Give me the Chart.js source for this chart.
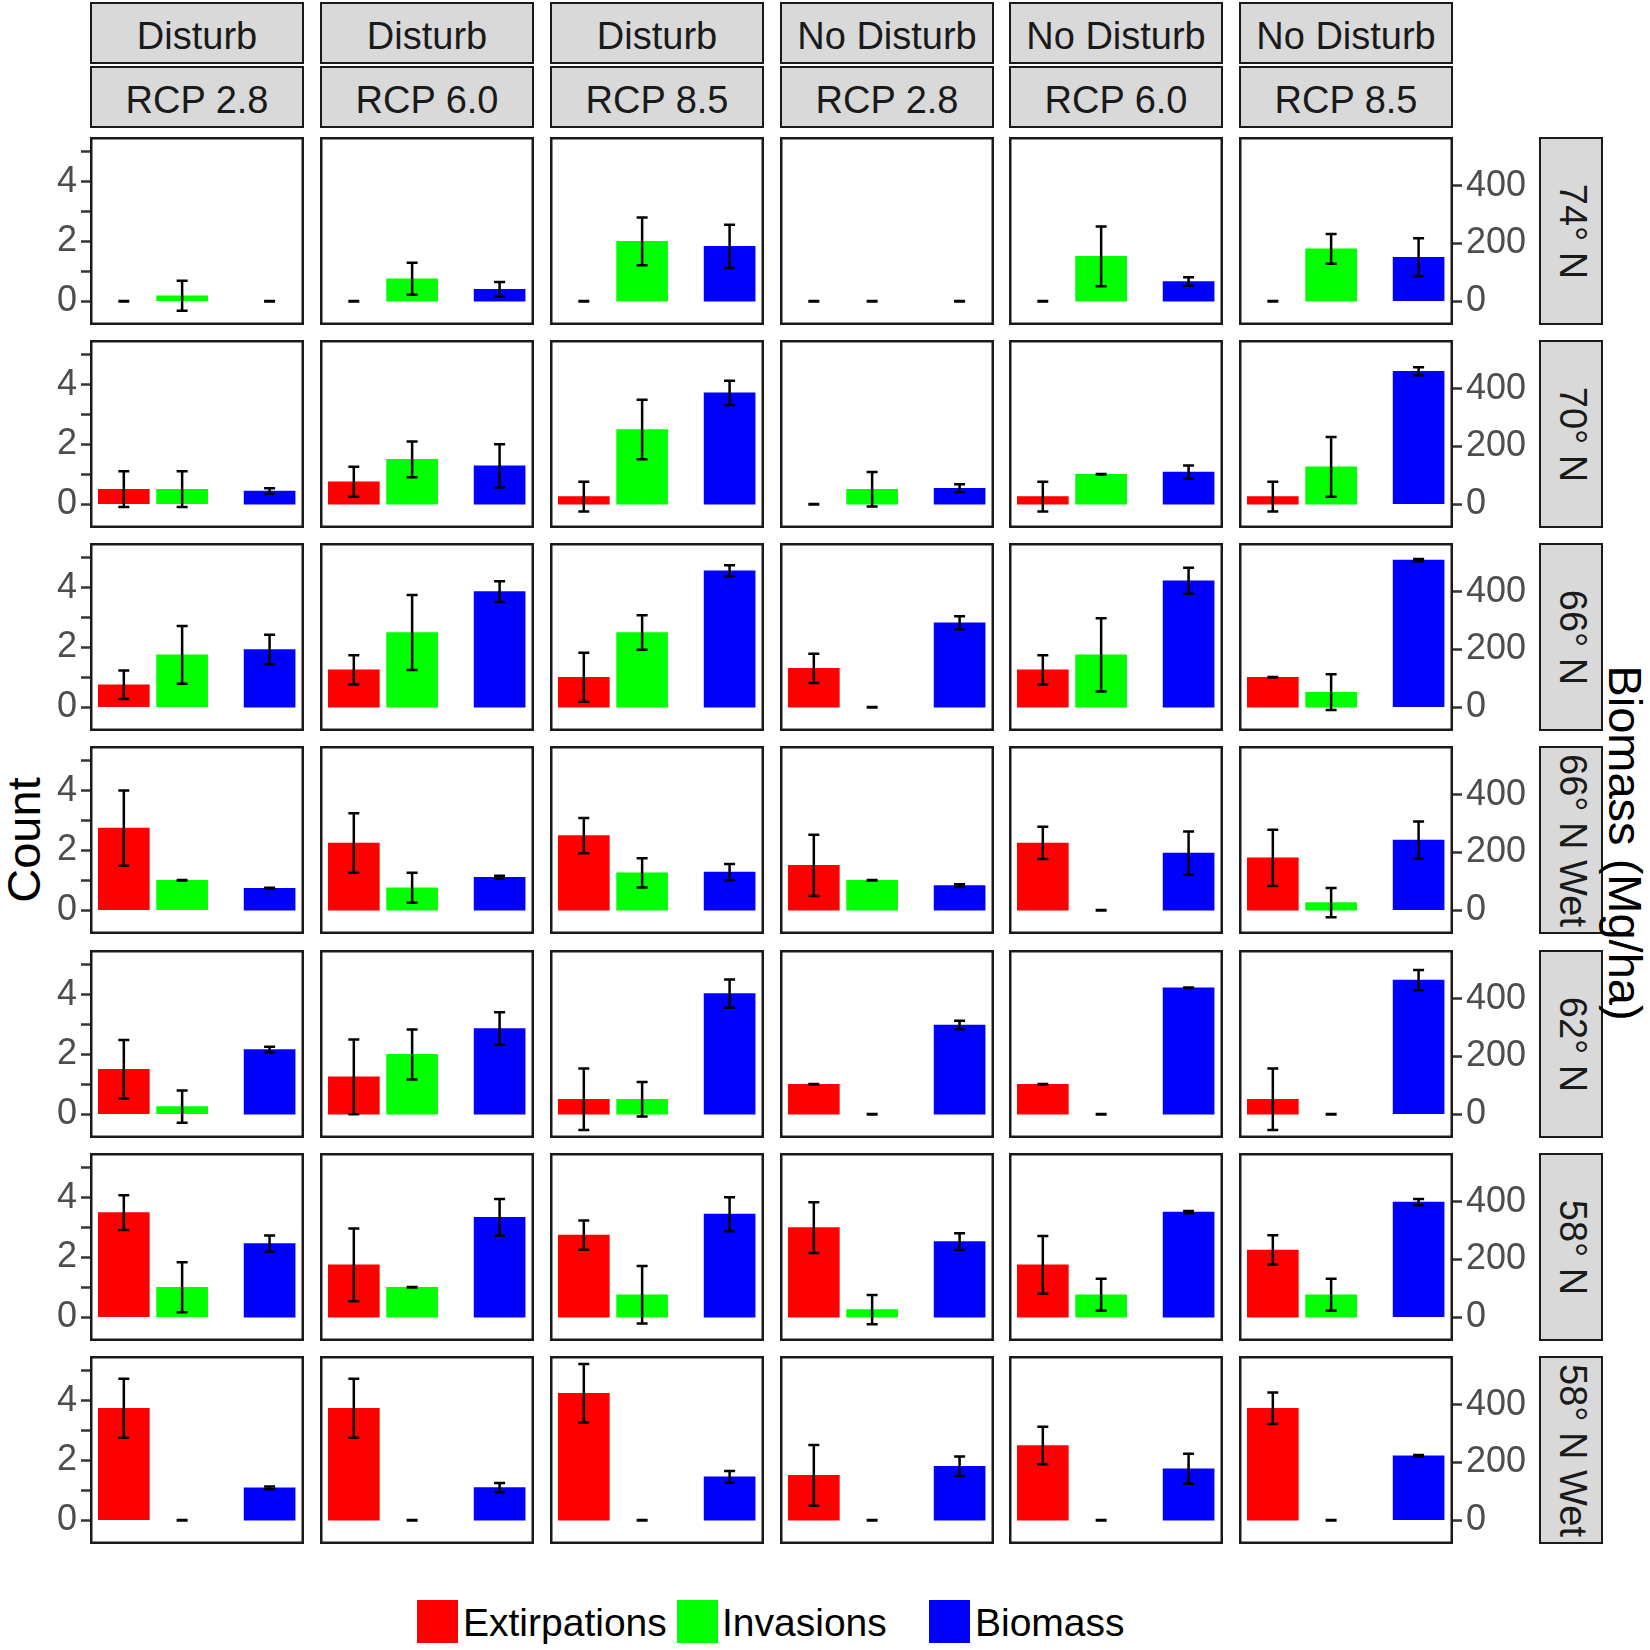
<!DOCTYPE html>
<html><head><meta charset="utf-8">
<script src="https://cdn.jsdelivr.net/npm/chart.js@4.4.1/dist/chart.umd.min.js"></script>
<style>
html,body{margin:0;padding:0;background:#fff;}
body{width:1650px;height:1650px;position:relative;overflow:hidden;font-family:'Liberation Sans',Arial,sans-serif;}
.strip{position:absolute;box-sizing:border-box;background:#d9d9d9;border:2px solid #1a1a1a;display:flex;align-items:center;justify-content:center;color:#1a1a1a;font-size:38px;white-space:nowrap;overflow:hidden;padding-top:6px;}
.rstrip{padding-top:0;padding-left:3px;}
.rstrip span{display:block;transform:rotate(90deg);}
canvas{position:absolute;}
.title{position:absolute;font-size:47px;color:#000;white-space:nowrap;}
.key{position:absolute;width:41px;height:43px;}
.ltext{position:absolute;font-size:39px;line-height:43px;color:#000;white-space:nowrap;}
</style></head>
<body>
<script>
// ---- data ----
const sites = ['74° N','70° N','66° N','66° N Wet','62° N','58° N','58° N Wet'];
const disturbance = ['Disturb','Disturb','Disturb','No Disturb','No Disturb','No Disturb'];
const scenarios = ['RCP 2.8','RCP 6.0','RCP 8.5','RCP 2.8','RCP 6.0','RCP 8.5'];
const seriesNames = ['Extirpations','Invasions','Biomass'];
const seriesColors = ['#ff0000','#00ff00','#0000ff'];
const countTicks = [0,1,2,3,4,5];
const biomassTicks = [0,200,400];

const extirpations = [
  [0,0,0,0,0,0],
  [0.5,0.75,0.25,0,0.25,0.25],
  [0.75,1.25,1.0,1.3,1.25,1.0],
  [2.75,2.25,2.5,1.5,2.25,1.75],
  [1.5,1.25,0.5,1.0,1.0,0.5],
  [3.5,1.75,2.75,3.0,1.75,2.25],
  [3.75,3.75,4.25,1.5,2.5,3.75]
];
const extirpationsErr = [
  [0,0,0,0,0,0],
  [0.6,0.5,0.5,0,0.5,0.5],
  [0.48,0.49,0.82,0.49,0.49,0],
  [1.26,1.0,0.59,1.03,0.54,0.94],
  [0.98,1.25,1.03,0,0,1.03],
  [0.58,1.22,0.49,0.85,0.97,0.49],
  [0.99,0.99,0.98,1.02,0.63,0.53]
];
const invasions = [
  [0.18,0.75,2.0,0,1.5,1.75],
  [0.5,1.5,2.5,0.5,1.0,1.25],
  [1.75,2.5,2.5,0,1.75,0.5],
  [1.0,0.75,1.25,1.0,0,0.25],
  [0.25,2.0,0.5,0,0,0],
  [1.0,1.0,0.75,0.25,0.75,0.75],
  [0,0,0,0,0,0]
];
const invasionsErr = [
  [0.5,0.54,0.8,0,1.0,0.5],
  [0.6,0.6,1.0,0.58,0,1.0],
  [0.97,1.26,0.58,0,1.23,0.6],
  [0,0.5,0.49,0,0,0.49],
  [0.54,0.84,0.58,0,0,0],
  [0.84,0,0.96,0.49,0.54,0.54],
  [0,0,0,0,0,0]
];
const biomass = [
  [0,41,190,0,68,152],
  [45,133,386,55,111,461],
  [200,401,473,292,438,510],
  [76,114,132,85,198,243],
  [224,297,418,309,438,465],
  [255,346,357,262,364,399],
  [112,113,150,187,178,223]
];
const biomassErr = [
  [0,25,75,0,15,66],
  [10,75,42,14,23,14],
  [51,36,19,23,45,4],
  [2,5,28,5,75,64],
  [10,56,49,15,0,35],
  [28,64,59,29,4,11],
  [5,16,20,34,52,3]
];

// ---- layout constants ----
const COUNT_MIN = -0.8, COUNT_MAX = 5.5;
const BIOMASS_PER_COUNT = 103.5;
const X_POS = [1, 2, 3.5];
const colLeft = c => Math.round(89.8 + c * 229.9);
const rowTop = r => Math.round(136.7 + r * 203.2);
const PW = 214, PH = 188;
const LEFT_W = 90, RIGHT_W = 84;

function addDiv(cls, css, html){
  const d = document.createElement('div');
  d.className = cls;
  Object.assign(d.style, css);
  d.innerHTML = html;
  document.body.appendChild(d);
  return d;
}

// strips
for (let c = 0; c < 6; c++) {
  addDiv('strip', {left: colLeft(c)+'px', top:'2px', width:PW+'px', height:'62px'}, disturbance[c]);
  addDiv('strip', {left: colLeft(c)+'px', top:'66px', width:PW+'px', height:'62px'}, scenarios[c]);
}
for (let r = 0; r < 7; r++) {
  addDiv('strip rstrip', {left:'1539px', top: rowTop(r)+'px', width:'64px', height:PH+'px'}, '<span>'+sites[r]+'</span>');
}

// titles
addDiv('title', {left:'23px', top:'840px', transform:'translate(-50%,-50%) rotate(-90deg)'}, 'Count');
addDiv('title', {left:'1625px', top:'843px', transform:'translate(-50%,-50%) rotate(90deg)'}, 'Biomass (Mg/ha)');

// legend
const keyLeft = [417, 677, 929];
const textLeft = [463, 722, 975];
for (let i = 0; i < 3; i++) {
  addDiv('key', {left:keyLeft[i]+'px', top:'1600px', background:seriesColors[i]}, '');
  addDiv('ltext', {left:textLeft[i]+'px', top:'1601px'}, seriesNames[i]);
}

// plugins
const errorBars = {
  id: 'errorBars',
  afterDatasetsDraw(chart) {
    const ctx = chart.ctx;
    ctx.save();
    ctx.strokeStyle = '#000';
    ctx.lineWidth = 2.5;
    const cap = 5.5;
    chart.data.datasets.forEach((ds, i) => {
      const meta = chart.getDatasetMeta(i);
      const sc = chart.scales[ds.yAxisID];
      meta.data.forEach((bar, j) => {
        const v = ds.data[j].y, e = ds.errors[j];
        const x = bar.x;
        const yt = sc.getPixelForValue(v + e), yb = sc.getPixelForValue(v - e);
        ctx.lineWidth = e === 0 ? 3 : 2.5;
        ctx.beginPath();
        ctx.moveTo(x, yt); ctx.lineTo(x, yb);
        ctx.moveTo(x - cap, yt); ctx.lineTo(x + cap, yt);
        ctx.moveTo(x - cap, yb); ctx.lineTo(x + cap, yb);
        ctx.stroke();
      });
    });
    ctx.restore();
  }
};
const panelBorder = {
  id: 'panelBorder',
  afterDraw(chart) {
    const a = chart.chartArea, ctx = chart.ctx;
    ctx.save();
    ctx.strokeStyle = '#1a1a1a';
    ctx.lineWidth = 2.5;
    ctx.strokeRect(a.left + 1.25, a.top + 1.25, a.right - a.left - 2.5, a.bottom - a.top - 2.5);
    ctx.restore();
  }
};

const tickFont = {family:"'Liberation Sans', Arial, sans-serif", size:36};

for (let r = 0; r < 7; r++) {
  for (let c = 0; c < 6; c++) {
    const cv = document.createElement('canvas');
    const showL = c === 0, showR = c === 5;
    const extraL = showL ? LEFT_W : 0;
    const extraR = showR ? RIGHT_W : 0;
    const w = PW + extraL + extraR;
    cv.width = w; cv.height = PH;
    cv.style.width = w + 'px'; cv.style.height = PH + 'px';
    cv.style.left = (colLeft(c) - extraL) + 'px';
    cv.style.top = rowTop(r) + 'px';
    document.body.appendChild(cv);

    const vals = [extirpations[r][c], invasions[r][c], biomass[r][c]];
    const errs = [extirpationsErr[r][c], invasionsErr[r][c], biomassErr[r][c]];
    const datasets = seriesNames.map((name, i) => ({
      label: name,
      data: [{x: X_POS[i], y: vals[i]}],
      errors: [errs[i]],
      backgroundColor: ctx => (ctx.raw && ctx.raw.y === 0 ? 'rgba(0,0,0,0)' : seriesColors[i]),
      yAxisID: i === 2 ? 'y2' : 'y'
    }));

    new Chart(cv, {
      type: 'bar',
      data: {datasets},
      plugins: [errorBars, panelBorder],
      options: {
        responsive: false,
        animation: false,
        events: [],
        layout: {padding: 0},
        plugins: {legend: {display: false}, tooltip: {enabled: false}},
        datasets: {bar: {grouped: false, barThickness: 51, borderWidth: 0}},
        scales: {
          x: {type: 'linear', min: 0.42, max: 4.09, offset: false, display: false},
          y: {
            type: 'linear', position: 'left', min: COUNT_MIN, max: COUNT_MAX,
            display: showL,
            afterBuildTicks: s => { s.ticks = countTicks.map(v => ({value: v})); },
            afterFit: s => { s.width = showL ? LEFT_W : 0; s.paddingTop = 0; s.paddingBottom = 0; },
            ticks: {autoSkip: false, padding: 4, color: '#4d4d4d', font: tickFont,
                    callback: v => (v % 2 === 0 ? String(v) : '')},
            grid: {drawOnChartArea: false, drawTicks: true, tickLength: 9, tickColor: '#333', tickWidth: 2.5},
            border: {display: false}
          },
          y2: {
            type: 'linear', position: 'right',
            min: COUNT_MIN * BIOMASS_PER_COUNT, max: COUNT_MAX * BIOMASS_PER_COUNT,
            display: showR,
            afterBuildTicks: s => { s.ticks = biomassTicks.map(v => ({value: v})); },
            afterFit: s => { s.width = showR ? RIGHT_W : 0; s.paddingTop = 0; s.paddingBottom = 0; },
            ticks: {autoSkip: false, padding: 4, color: '#4d4d4d', font: tickFont,
                    callback: v => String(v)},
            grid: {drawOnChartArea: false, drawTicks: true, tickLength: 9, tickColor: '#333', tickWidth: 2.5},
            border: {display: false}
          }
        }
      }
    });
  }
}
</script>
</body></html>
